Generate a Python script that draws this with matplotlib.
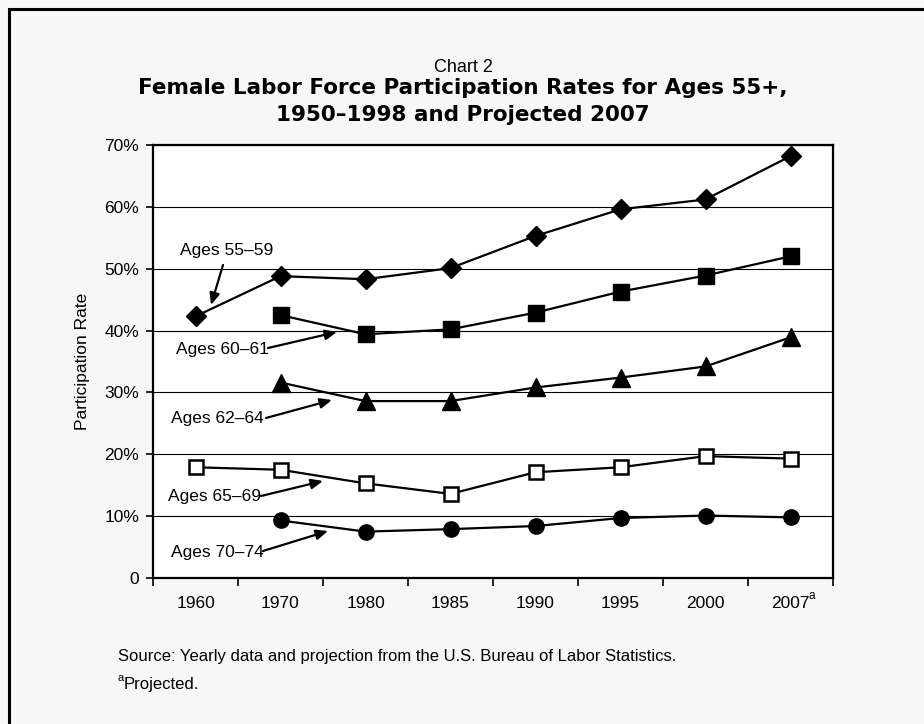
import matplotlib
matplotlib.use("Agg")
import matplotlib.pyplot as plt
from matplotlib.patches import Rectangle

plt.rcParams['font.family'] = ['Liberation Sans', 'DejaVu Sans']

categories = ["1960", "1970", "1980", "1985", "1990", "1995", "2000", "2007"]
ages_55_59 = [42.3, 48.8, 48.3, 50.1, 55.3, 59.6, 61.2, 68.2]
ages_60_61 = [None, 42.5, 39.4, 40.2, 42.9, 46.3, 48.9, 52.0]
ages_62_64 = [None, 31.6, 28.6, 28.6, 30.8, 32.4, 34.2, 38.9]
ages_65_69 = [17.9, 17.5, 15.3, 13.6, 17.1, 17.9, 19.7, 19.3]
ages_70_74 = [None, 9.3, 7.5, 7.9, 8.4, 9.7, 10.1, 9.8]
yticks = [0, 10, 20, 30, 40, 50, 60, 70]
ytick_labels = ["0", "10%", "20%", "30%", "40%", "50%", "60%", "70%"]

W, H = 924, 724
fig = plt.figure(figsize=(W / 100, H / 100), dpi=100, facecolor="#f7f7f7")

# frame (top and left edges visible)
fig.patches.append(Rectangle((8.5 / W, -0.1), 1.2, 1 - 8.5 / H + 0.1, transform=fig.transFigure,
                             fill=False, edgecolor="black", linewidth=2.2, zorder=0))

ax = fig.add_axes([153 / W, 1 - 578 / H, (833 - 153) / W, (578 - 145) / H])
ax.set_facecolor("white")
x = list(range(len(categories)))


def series(vals, **kw):
    xs = [xi for xi, v in zip(x, vals) if v is not None]
    ys = [v for v in vals if v is not None]
    ax.plot(xs, ys, color="black", linewidth=1.6, zorder=3, clip_on=False, **kw)


series(ages_55_59, marker="D", markersize=10, markerfacecolor="black", markeredgecolor="black")
series(ages_60_61, marker="s", markersize=11.5, markerfacecolor="black", markeredgecolor="black")
series(ages_62_64, marker="^", markersize=13, markerfacecolor="black", markeredgecolor="black")
series(ages_65_69, marker="s", markersize=9.5, markerfacecolor="white", markeredgecolor="black",
       markeredgewidth=1.8)
series(ages_70_74, marker="o", markersize=11, markerfacecolor="black", markeredgecolor="black")

ax.set_xlim(-0.5, len(categories) - 0.5)
ax.set_ylim(0, 70)
ax.set_yticks(yticks)
ax.set_yticklabels(ytick_labels, fontsize=12.5)
ax.yaxis.grid(True, color="black", linewidth=0.8)
ax.set_axisbelow(True)
ax.set_xticks(x)
ax.set_xticklabels(categories, fontsize=12.5)
ax.set_xticks([i - 0.5 for i in range(len(categories) + 1)], minor=True)
ax.tick_params(axis="x", which="major", length=0, pad=13)
ax.tick_params(axis="x", which="minor", length=6, width=1.2, direction="out")
ax.tick_params(axis="y", length=5, width=1.2, pad=5)
for s in ax.spines.values():
    s.set_linewidth(1.6)
ax.set_ylabel("Participation Rate", fontsize=12.5, labelpad=10)

# superscript "a" on the projected 2007 label
ax.annotate("a", xy=(len(categories) - 1, 0), xycoords=("data", "axes fraction"),
            xytext=(13, -13), textcoords="offset points", fontsize=8.5, ha="left", va="center")

# titles
fig.text(463 / W, 1 - 68 / H, "Chart 2", ha="center", va="center", fontsize=13)
fig.text(463 / W, 1 - 88 / H, "Female Labor Force Participation Rates for Ages 55+,",
         ha="center", va="center", fontsize=15.5, fontweight="bold", family="DejaVu Sans")
fig.text(463 / W, 1 - 115 / H, "1950\u20131998 and Projected 2007",
         ha="center", va="center", fontsize=15.5, fontweight="bold", family="DejaVu Sans")


def pix(px, py):
    return (px / W, 1 - py / H)


# annotations: label text position and arrow (in pixel coords)
annots = [
    ("Ages 55\u201359", (180, 251), (223, 265), (211, 305)),
    ("Ages 60\u201361", (176, 349), (268, 348), (337, 332)),
    ("Ages 62\u201364", (171, 418), (266, 418), (332, 400)),
    ("Ages 65\u201369", (168, 497), (261, 496), (323, 481)),
    ("Ages 70\u201374", (171, 552), (263, 551), (328, 531)),
]
for label, tpos, astart, aend in annots:
    fig.text(*pix(*tpos), label, ha="left", va="center", fontsize=12.5)
    ax.annotate("", xy=pix(*aend), xycoords="figure fraction", xytext=pix(*astart),
                textcoords="figure fraction",
                arrowprops=dict(arrowstyle="-|>,head_length=0.7,head_width=0.3", color="black",
                                linewidth=1.6, shrinkA=0, shrinkB=0))

fig.text(118 / W, 1 - 656 / H, "Source: Yearly data and projection from the U.S. Bureau of Labor Statistics.",
         ha="left", va="center", fontsize=12)
fig.text(118 / W, 1 - 678 / H, "a", ha="left", va="center", fontsize=8)
fig.text(124 / W, 1 - 684 / H, "Projected.", ha="left", va="center", fontsize=12)

fig.savefig("out.png", dpi=100, facecolor=fig.get_facecolor())
